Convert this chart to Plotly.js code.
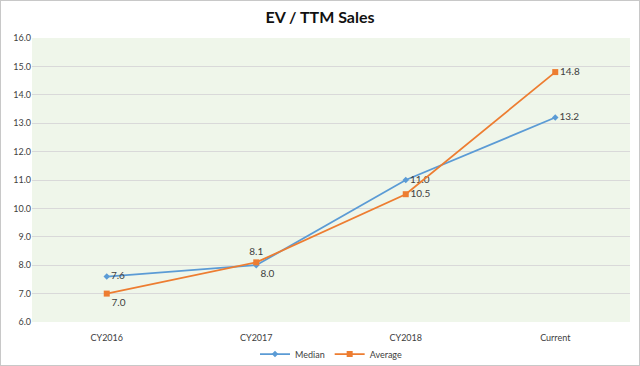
<!DOCTYPE html>
<html>
<head>
<meta charset="utf-8">
<script src="https://cdn.plot.ly/plotly-3.0.1.min.js"></script>
<style>
html,body{margin:0;padding:0;background:#fff;}
#chart{width:638px;height:364px;border:1px solid #c8c8c8;}
</style>
</head>
<body>
<div id="chart"></div>
<script>
const categories = ["CY2016", "CY2017", "CY2018", "Current"];
const medianValues = [7.6, 8.0, 11.0, 13.2];
const averageValues = [7.0, 8.1, 10.5, 14.8];
const yTickVals = [6, 7, 8, 9, 10, 11, 12, 13, 14, 15, 16];

const medianPos = ["middle right", "bottom right", "middle right", "middle right"];
const averagePos = ["bottom right", "top center", "middle right", "middle right"];

const fontFam = "Lato, 'Open Sans', sans-serif";

const traces = [
  {
    x: categories, y: medianValues, name: "Median", type: "scatter", mode: "lines+markers+text",
    line: {color: "#5B9BD5", width: 1.8},
    marker: {symbol: "diamond", size: 5, color: "#5B9BD5"},
    text: medianValues.map(v => v.toFixed(1)), textposition: medianPos,
    textfont: {size: 10, color: "#404040", family: fontFam}
  },
  {
    x: categories, y: averageValues, name: "Average", type: "scatter", mode: "lines+markers+text",
    line: {color: "#ED7D31", width: 1.8},
    marker: {symbol: "square", size: 6, color: "#ED7D31"},
    text: averageValues.map(v => v.toFixed(1)), textposition: averagePos,
    textfont: {size: 10, color: "#404040", family: fontFam}
  }
];

const layout = {
  width: 638, height: 364,
  margin: {l: 31, r: 9, t: 37, b: 43},
  paper_bgcolor: "#ffffff",
  plot_bgcolor: "#EFF6EA",
  font: {family: fontFam, size: 9, color: "#404040"},
  title: {text: "<b>EV / TTM Sales</b>", x: 0.5, xanchor: "center", y: 0.955, yanchor: "middle",
          font: {size: 16, color: "#111111", family: fontFam}},
  xaxis: {type: "category", showgrid: false, zeroline: false, showline: false,
          ticks: "outside", ticklen: 7, tickcolor: "rgba(0,0,0,0)",
          tickfont: {size: 9, color: "#404040"}, range: [-0.5, 3.5]},
  yaxis: {range: [6, 16], tickvals: yTickVals, ticktext: yTickVals.map(v => v.toFixed(1)),
          showgrid: true, gridcolor: "#D9D9D9", gridwidth: 1, zeroline: false, showline: false,
          ticks: "", tickfont: {size: 9, color: "#404040"}, fixedrange: true},
  legend: {orientation: "h", x: 0.5, xanchor: "center", xref: "paper",
           yref: "container", y: 0.03, yanchor: "middle",
           bgcolor: "rgba(0,0,0,0)",
           font: {size: 9, color: "#404040"}, tracegroupgap: 0},
  showlegend: true
};

Plotly.newPlot("chart", traces, layout, {displayModeBar: false, staticPlot: true});
</script>
</body>
</html>
